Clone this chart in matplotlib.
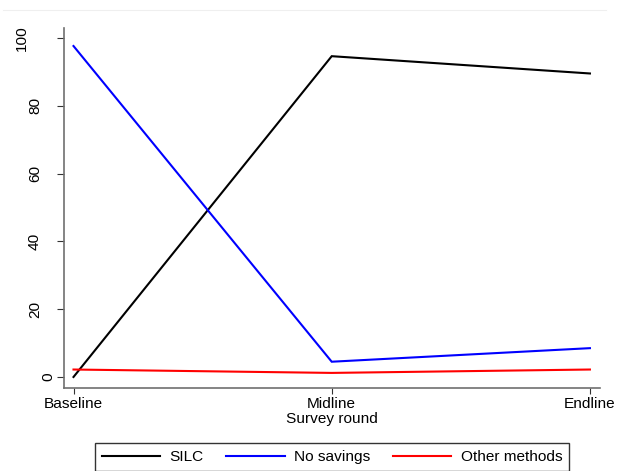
import matplotlib
matplotlib.use("Agg")
import matplotlib.pyplot as plt
from matplotlib import transforms
from matplotlib.lines import Line2D

# Survey rounds and share of respondents by savings method (%)
rounds = ["Baseline", "Midline", "Endline"]
silc = [0.0, 94.6, 89.5]
no_savings = [97.6, 4.5, 8.5]
other_methods = [2.2, 1.2, 2.2]
y_ticks = [0, 20, 40, 60, 80, 100]

series_names = ["SILC", "No savings", "Other methods"]
series_colors = ["black", "#0000ff", "#ff0000"]

plt.rcParams["font.family"] = ["Liberation Sans", "DejaVu Sans"]
FS = 11.1

W, H = 617, 471
fig = plt.figure(figsize=(W / 100, H / 100), dpi=100)
fig.patch.set_facecolor("white")

# plot region in pixel coordinates
left_px, right_px, top_px, bottom_px = 64, 600, 27.7, 388
ax = fig.add_axes([left_px / W, 1 - bottom_px / H,
                   (right_px - left_px) / W, (bottom_px - top_px) / H])

x = list(range(len(rounds)))
for vals, name, col in zip([silc, no_savings, other_methods], series_names, series_colors):
    ax.plot(x, vals, color=col, lw=1.5, label=name, solid_joinstyle="miter")

ax.set_xlim(-0.0368, 2.039)
ax.set_ylim(-3.25, 103.0)

for s in ["top", "right"]:
    ax.spines[s].set_visible(False)
for s in ["left", "bottom"]:
    ax.spines[s].set_color("#707070")
    ax.spines[s].set_linewidth(1.2)

ax.set_xticks(x)
ax.set_xticklabels(rounds, fontsize=FS)
ax.tick_params(axis="x", length=4.3, width=0.8, color="#333333", pad=2)
ax.set_xlabel("Survey round", fontsize=FS, labelpad=1)

# vertical y tick labels
ax.set_yticks(y_ticks)
ax.set_yticklabels([])
ax.tick_params(axis="y", length=5, width=0.8, color="#333333")
for v in y_ticks:
    label = str(v)
    right_edge = 52 - 13 * (len(label) - 1)
    tr = transforms.offset_copy(ax.get_yaxis_transform(), fig=fig,
                                x=-(left_px - right_edge) + 3, y=0, units="dots")
    ax.text(0, v, label, transform=tr, rotation=90, ha="right", va="center",
            fontsize=FS, clip_on=False)

handles = [Line2D([], [], color=c, lw=1.5) for c in series_colors]
leg = fig.legend(handles, series_names, loc="upper center",
                 bbox_to_anchor=(332 / W, 1 - 443 / H), ncol=3, fontsize=FS,
                 frameon=True, fancybox=False, edgecolor="#333333", framealpha=1,
                 handlelength=3.77, handletextpad=0.6, columnspacing=1.5,
                 borderpad=0.45, borderaxespad=0)
leg.get_frame().set_linewidth(1.0)

# faint outer border line
fig.add_artist(Line2D([3 / W, 606 / W], [1 - 9.5 / H, 1 - 9.5 / H],
                      transform=fig.transFigure, color="#efefef", lw=0.8))

fig.savefig("out.png", dpi=100, facecolor="white")
